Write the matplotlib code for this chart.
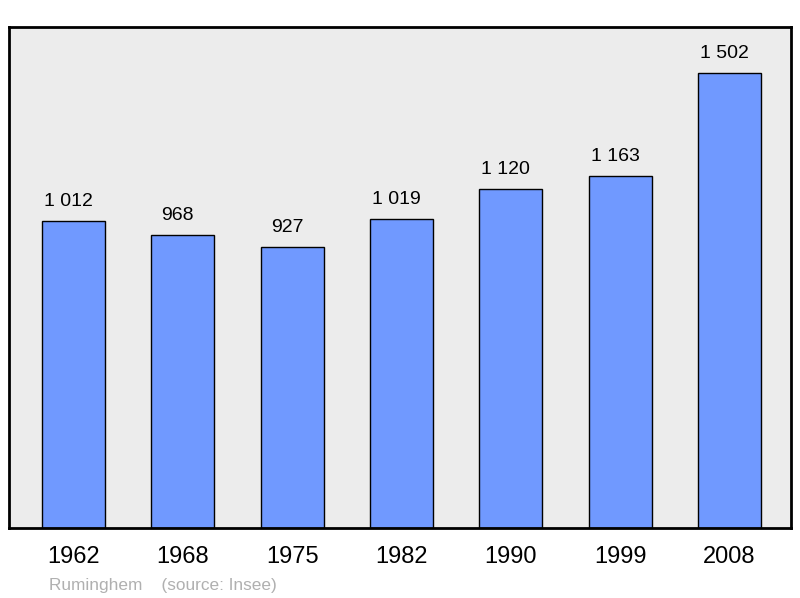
import matplotlib
matplotlib.use("Agg")
import matplotlib.pyplot as plt

# population data
years = ["1962", "1968", "1975", "1982", "1990", "1999", "2008"]
population = [1012, 968, 927, 1019, 1120, 1163, 1502]
value_labels = ["1 012", "968", "927", "1 019", "1 120", "1 163", "1 502"]

plt.rcParams["font.family"] = ["Liberation Sans", "DejaVu Sans"]

fig = plt.figure(figsize=(8, 5.98), dpi=100)
ax = fig.add_axes([9 / 800, 1 - 528 / 598, 782 / 800, 501 / 598])
ax.set_facecolor("#ececec")

x = list(range(len(years)))
ax.bar(x, population, width=0.576, color="#7099ff", edgecolor="black",
       linewidth=1.0, zorder=2)

for xi, v, lab in zip(x, population, value_labels):
    ax.annotate(lab, (xi, v), xytext=(-3.6, 10.8), textcoords="offset points",
                ha="center", va="baseline", fontsize=14, color="black")

ax.set_xlim(-0.59, 6.563)
ax.set_ylim(0, 1654)
ax.set_yticks([])
ax.set_xticks(x)
ax.set_xticklabels(years, fontsize=17)
ax.tick_params(axis="x", length=0, pad=13)

for spine in ax.spines.values():
    spine.set_linewidth(2)
    spine.set_color("black")

fig.text(49 / 800, 1 - 590 / 598, "Ruminghem    (source: Insee)",
         fontsize=12.4, color="#b0b0b0", va="baseline", ha="left")

fig.savefig("out.png", dpi=100)
